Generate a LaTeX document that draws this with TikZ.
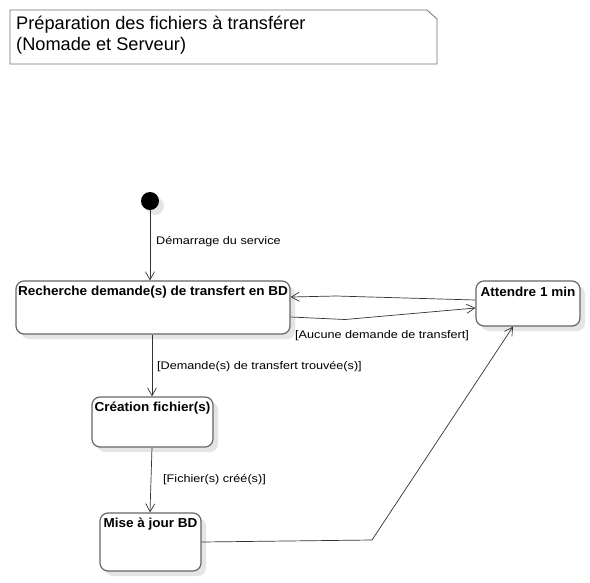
\documentclass[tikz,border=0pt]{standalone}
\usepackage{fontspec}
\setmainfont{Liberation Sans}
\newfontfamily\lblfont[FakeStretch=1.15]{Liberation Sans}
\newfontfamily\boldfont[FakeStretch=1.04]{Liberation Sans}
\usetikzlibrary{arrows.meta,shadows}
\begin{document}
\begin{tikzpicture}[x=1pt,y=-1pt,
  statebox/.style={draw=black!60,line width=1.2pt,rounded corners=8pt,fill=white,
    inner sep=0pt,
    drop shadow={shadow xshift=5pt,shadow yshift=-5pt,fill=black!10,opacity=1}},
  boldtxt/.style={font=\boldfont\fontsize{13}{15}\selectfont\bfseries,inner sep=0pt},
  lbltxt/.style={font=\lblfont\fontsize{11}{13}\selectfont,inner sep=0pt,anchor=west},
  conn/.style={draw=black!80,line width=0.7pt},
  arr/.style={conn,-{Straight Barb[length=8pt,width=9pt]}}]
\useasboundingbox[fill=white] (0,0) rectangle (590,582);
% note
\draw[draw=black!55,line width=0.8pt,fill=white] (10,10) -- (427,10) -- (437,19) -- (437,64) -- (10,64) -- cycle;
\node[anchor=north west,inner sep=0pt,align=left,font=\fontsize{18.2}{21}\selectfont] (title) at (16,15.5)
  {Préparation des fichiers à transférer\\(Nomade et Serveur)};
% initial
\fill[black!10] (155,206) circle (9);
\node[circle,fill=black,minimum size=18pt,inner sep=0pt] (init) at (150,201) {};
% states
\node[statebox,minimum width=274pt,minimum height=53pt] (rech) at (153,307.5) {};
\node[boldtxt] (rechT) at (153,292) {Recherche demande(s) de transfert en BD};
\node[statebox,minimum width=104pt,minimum height=45pt] (att) at (528,303.5) {};
\node[boldtxt] (attT) at (528,292) {Attendre 1 min};
\node[statebox,minimum width=121pt,minimum height=50pt] (crea) at (152.5,422) {};
\node[boldtxt] (creaT) at (152.5,408) {Création fichier(s)};
\node[statebox,minimum width=101pt,minimum height=58pt] (maj) at (150.5,542) {};
\node[boldtxt] (majT) at (150.5,524) {Mise à jour BD};
% connectors
\draw[arr] (init.south) -- (init.south |- rech.north);
\draw[arr] (att.west |- 0,300) -- (336,296) -- (rech.east |- 0,297);
\draw[arr] (rech.east |- 0,317) -- (345,319.5) -- (att.west |- 0,308);
\draw[arr] (rech.south -| 152,0) -- (crea.north -| 152,0);
\draw[arr] (crea.south -| 152,0) -- (maj.north -| 150,0);
\draw[arr] (maj.east |- 0,542) -- (372,540) -- (att.south -| 513,0);
% labels
\node[lbltxt] (l1) at (156,242) {Démarrage du service};
\node[lbltxt] (l2) at (295,336) {[Aucune demande de transfert]};
\node[lbltxt] (l3) at (157,367) {[Demande(s) de transfert trouvée(s)]};
\node[lbltxt] (l4) at (163,480) {[Fichier(s) créé(s)]};
\end{tikzpicture}
\end{document}
